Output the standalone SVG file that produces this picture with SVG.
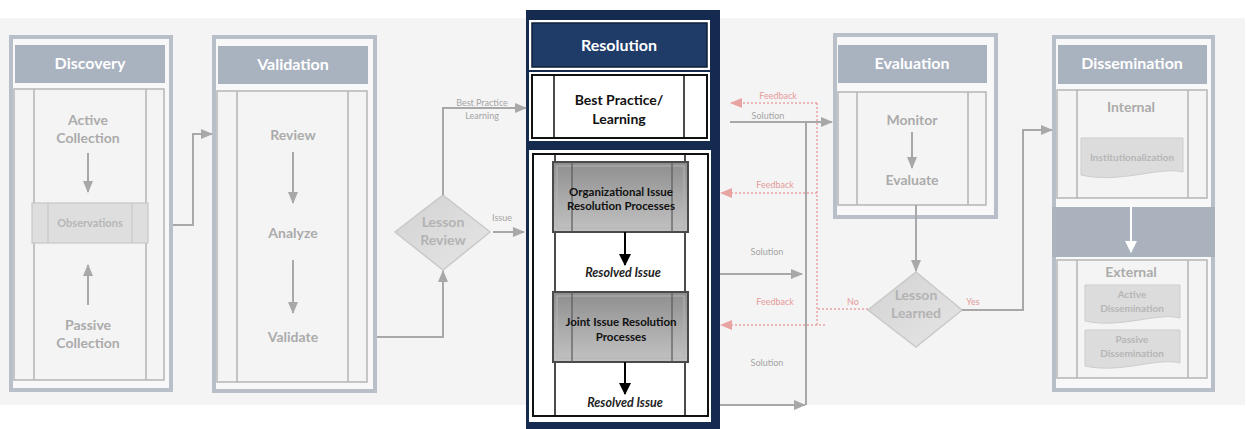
<svg xmlns="http://www.w3.org/2000/svg" width="1247" height="429" viewBox="0 0 1247 429">
  <defs>
    <marker id="arrGray" markerUnits="userSpaceOnUse" markerWidth="12" markerHeight="10" refX="11" refY="5" orient="auto">
      <path d="M0,0 L12,5 L0,10 Z" fill="#a8a8a8"/>
    </marker>
    <marker id="arrPink" markerUnits="userSpaceOnUse" markerWidth="12" markerHeight="10" refX="11" refY="5" orient="auto">
      <path d="M0,0 L12,5 L0,10 Z" fill="#e8a3a3"/>
    </marker>
    <marker id="arrBlack" markerUnits="userSpaceOnUse" markerWidth="12" markerHeight="12" refX="11" refY="6" orient="auto">
      <path d="M0,0 L12,6 L0,12 Z" fill="#000"/>
    </marker>
    <marker id="arrWhite" markerUnits="userSpaceOnUse" markerWidth="12" markerHeight="12" refX="11" refY="6" orient="auto">
      <path d="M0,0 L12,6 L0,12 Z" fill="#fff"/>
    </marker>
    <linearGradient id="procFill" x1="0" y1="0" x2="0" y2="1">
      <stop offset="0" stop-color="#8e8e8e"/>
      <stop offset="0.5" stop-color="#a9a9a9"/>
      <stop offset="1" stop-color="#c2c2c2"/>
    </linearGradient>
    <linearGradient id="diaFill" x1="0" y1="0" x2="1" y2="1">
      <stop offset="0" stop-color="#d2d2d2"/>
      <stop offset="1" stop-color="#e6e6e6"/>
    </linearGradient>
    <style>
      .frame { fill: #b8bfc9; }
      .pane { fill: #f8f8f8; }
      .head { fill: #a9b2bf; }
      .headTxt { font-family: Lato, "Liberation Sans", sans-serif; font-weight: bold; font-size: 16px; fill: #ffffff; text-anchor: middle; }
      .box { fill: #f4f4f4; stroke: #b5b5b5; stroke-width: 1.5; }
      .rule { stroke: #b5b5b5; stroke-width: 1.5; }
      .step { font-family: Lato, "Liberation Sans", sans-serif; font-weight: bold; font-size: 14px; fill: #ababab; text-anchor: middle; }
      .small { font-family: Lato, "Liberation Sans", sans-serif; font-weight: bold; font-size: 10px; fill: #b6b6b6; text-anchor: middle; }
      .doc { fill: #dcdcdc; stroke: #cdcdcd; stroke-width: 1; }
      .dia { fill: url(#diaFill); stroke: #c9c9c9; stroke-width: 1.5; }
      .diaTxt { font-family: Lato, "Liberation Sans", sans-serif; font-weight: bold; font-size: 14px; fill: #b3b3b3; text-anchor: middle; }
      .conn { fill: none; stroke: #a8a8a8; stroke-width: 2; }
      .fb { fill: none; stroke: #e8a3a3; stroke-width: 1.5; stroke-dasharray: 2 2; }
      .lblGray { font-family: Lato, "Liberation Sans", sans-serif; font-size: 9px; fill: #a4a4a4; text-anchor: middle; }
      .lblPink { font-family: Lato, "Liberation Sans", sans-serif; font-size: 9px; fill: #e59a9a; text-anchor: middle; }
      .proc { fill: url(#procFill); stroke: #4a4a4a; stroke-width: 2; }
      .procIn { fill: none; stroke: #b4b4b4; stroke-width: 1; }
      .procRule { stroke: #5a5a5a; stroke-width: 1.2; }
      .procTxt { font-family: Lato, "Liberation Sans", sans-serif; font-weight: bold; font-size: 11.5px; fill: #111; text-anchor: middle; }
      .resolved { font-family: Lato, "Liberation Sans", sans-serif; font-weight: bold; font-style: italic; font-size: 12.5px; fill: #222; text-anchor: middle; }
      .bpTxt { font-family: Lato, "Liberation Sans", sans-serif; font-weight: bold; font-size: 14px; fill: #111; text-anchor: middle; }
      .blk { fill: #fff; stroke: #111; stroke-width: 2; }
      .blkRule { stroke: #111; stroke-width: 1.5; }
    </style>
  </defs>

  <!-- page background band -->
  <rect x="0" y="0" width="1247" height="429" fill="#ffffff"/>
  <rect x="0" y="18" width="1245" height="387" fill="#f4f4f4"/>

  <!-- Discovery -->
  <g id="discovery">
    <rect class="frame" x="9" y="35" width="164" height="357"/>
    <rect class="pane" x="13" y="39" width="156" height="349"/>
    <rect class="head" x="15" y="45" width="150" height="38"/>
    <text class="headTxt" x="90" y="69">Discovery</text>
    <rect class="box" x="14" y="89" width="150" height="291"/>
    <line class="rule" x1="34" y1="89" x2="34" y2="380"/>
    <line class="rule" x1="146" y1="89" x2="146" y2="380"/>
    <text class="step" x="88" y="125">Active</text>
    <text class="step" x="88" y="143">Collection</text>
    <rect x="32" y="203" width="116" height="40" fill="#dedede" stroke="#c6c6c6" stroke-width="1.2"/>
    <line x1="48" y1="203" x2="48" y2="243" stroke="#c6c6c6" stroke-width="1.2"/>
    <line x1="132" y1="203" x2="132" y2="243" stroke="#c6c6c6" stroke-width="1.2"/>
    <text class="small" x="90" y="227" style="font-size:11px">Observations</text>
    <text class="step" x="88" y="330">Passive</text>
    <text class="step" x="88" y="348">Collection</text>
  </g>

  <!-- Validation -->
  <g id="validation">
    <rect class="frame" x="212" y="35" width="165" height="358"/>
    <rect class="pane" x="216" y="39" width="157" height="350"/>
    <rect class="head" x="218" y="46" width="150" height="38"/>
    <text class="headTxt" x="293" y="70">Validation</text>
    <rect class="box" x="217" y="91" width="150" height="291"/>
    <line class="rule" x1="237" y1="91" x2="237" y2="382"/>
    <line class="rule" x1="348" y1="91" x2="348" y2="382"/>
    <text class="step" x="293" y="140">Review</text>
    <text class="step" x="293" y="238">Analyze</text>
    <text class="step" x="293" y="342">Validate</text>
  </g>

  <!-- Lesson Review decision -->
  <g id="lesson-review">
    <polygon class="dia" points="443,195 490,232 443,270 395,232"/>
    <text class="diaTxt" x="443" y="227">Lesson</text>
    <text class="diaTxt" x="443" y="245">Review</text>
  </g>

  <!-- Resolution -->
  <g id="resolution">
    <rect x="526" y="10" width="194" height="419" fill="#142b4f"/>
    <rect x="529" y="20" width="181" height="50" fill="#ffffff"/>
    <rect x="532" y="23" width="175" height="44" fill="#1f3c69" stroke="#0e1f3a" stroke-width="1.5"/>
    <text class="headTxt" x="619" y="51">Resolution</text>
    <rect x="529" y="72" width="181" height="69" fill="#ffffff"/>
    <rect class="blk" x="532" y="75" width="175" height="63"/>
    <line class="blkRule" x1="554" y1="75" x2="554" y2="138"/>
    <line class="blkRule" x1="684" y1="75" x2="684" y2="138"/>
    <text class="bpTxt" x="619" y="105">Best Practice/</text>
    <text class="bpTxt" x="619" y="124">Learning</text>
    <rect x="529" y="150" width="182" height="272" fill="#ffffff"/>
    <rect class="blk" x="533" y="154" width="175" height="262"/>
    <line class="blkRule" x1="555" y1="154" x2="555" y2="416"/>
    <line class="blkRule" x1="685" y1="154" x2="685" y2="416"/>
  </g>

  <g id="org-issue">
    <rect class="proc" x="553" y="162" width="135" height="70"/>
    <rect class="procIn" x="557" y="166" width="127" height="62"/>
    <line class="procRule" x1="572" y1="162" x2="572" y2="232"/>
    <line class="procRule" x1="672" y1="162" x2="672" y2="232"/>
    <text class="procTxt" x="621" y="196">Organizational Issue</text>
    <text class="procTxt" x="621" y="210">Resolution Processes</text>
  </g>

  <g id="resolved-1">
    <text class="resolved" x="623" y="277">Resolved Issue</text>
  </g>

  <g id="joint-issue">
    <rect class="proc" x="553" y="292" width="135" height="70"/>
    <rect class="procIn" x="557" y="296" width="127" height="62"/>
    <line class="procRule" x1="572" y1="292" x2="572" y2="362"/>
    <line class="procRule" x1="672" y1="292" x2="672" y2="362"/>
    <text class="procTxt" x="621" y="326">Joint Issue Resolution</text>
    <text class="procTxt" x="621" y="341">Processes</text>
  </g>

  <g id="resolved-2">
    <text class="resolved" x="625" y="407">Resolved Issue</text>
  </g>

  <!-- Evaluation -->
  <g id="evaluation">
    <rect class="frame" x="833" y="33" width="165" height="186"/>
    <rect class="pane" x="837" y="37" width="157" height="178"/>
    <rect class="head" x="838" y="45" width="149" height="38"/>
    <text class="headTxt" x="912" y="69">Evaluation</text>
    <rect class="box" x="838" y="92" width="148" height="113"/>
    <line class="rule" x1="857" y1="92" x2="857" y2="205"/>
    <line class="rule" x1="968" y1="92" x2="968" y2="205"/>
    <text class="step" x="912" y="125">Monitor</text>
    <text class="step" x="912" y="185">Evaluate</text>
  </g>

  <!-- Lesson Learned decision -->
  <g id="lesson-learned">
    <polygon class="dia" points="916,272 962,310 916,347 868,310"/>
    <text class="diaTxt" x="916" y="300">Lesson</text>
    <text class="diaTxt" x="916" y="318">Learned</text>
  </g>

  <!-- Dissemination -->
  <g id="dissemination">
    <rect class="frame" x="1052" y="35" width="163" height="357"/>
    <rect x="1052" y="207" width="163" height="50" fill="#aab2bd"/>
    <rect class="pane" x="1056" y="39" width="155" height="168"/>
    <rect class="pane" x="1056" y="257" width="155" height="131"/>
    <rect class="head" x="1058" y="45" width="149" height="39"/>
    <text class="headTxt" x="1132" y="69">Dissemination</text>
    <rect class="box" x="1057" y="90" width="150" height="108"/>
    <line class="rule" x1="1077" y1="90" x2="1077" y2="198"/>
    <line class="rule" x1="1188" y1="90" x2="1188" y2="198"/>
    <text class="step" x="1131" y="112">Internal</text>
    <path class="doc" d="M1081,138 H1183 V172 C1160,166 1120,184 1081,175 Z"/>
    <text class="small" x="1132" y="161">Institutionalization</text>
    <rect class="box" x="1057" y="260" width="150" height="118"/>
    <line class="rule" x1="1077" y1="260" x2="1077" y2="378"/>
    <line class="rule" x1="1188" y1="260" x2="1188" y2="378"/>
    <text class="step" x="1131" y="277">External</text>
    <path class="doc" d="M1085,285 H1180 V318 C1158,312 1120,329 1085,321 Z"/>
    <text class="small" x="1132" y="298">Active</text>
    <text class="small" x="1132" y="312">Dissemination</text>
    <path class="doc" d="M1085,330 H1180 V363 C1158,357 1120,374 1085,366 Z"/>
    <text class="small" x="1132" y="343">Passive</text>
    <text class="small" x="1132" y="357">Dissemination</text>
  </g>

  <!-- connectors -->
  <g id="connectors">
    <!-- arrows inside the stage panels -->
    <path class="conn" d="M88,153 V192" marker-end="url(#arrGray)"/>
    <path class="conn" d="M88,305 V265" marker-end="url(#arrGray)"/>
    <path class="conn" d="M293,152 V203" marker-end="url(#arrGray)"/>
    <path class="conn" d="M293,260 V313" marker-end="url(#arrGray)"/>
    <path class="conn" d="M912,132 V168" marker-end="url(#arrGray)"/>
    <path d="M1131,207 V252" fill="none" stroke="#ffffff" stroke-width="2" marker-end="url(#arrWhite)"/>
    <path d="M625,232 V265" fill="none" stroke="#000" stroke-width="2" marker-end="url(#arrBlack)"/>
    <path d="M625,362 V394" fill="none" stroke="#000" stroke-width="2" marker-end="url(#arrBlack)"/>

    <!-- stage to stage -->
    <path class="conn" d="M173,225 H193 V134 H212" marker-end="url(#arrGray)"/>
    <path class="conn" d="M377,337 H443 V271" marker-end="url(#arrGray)"/>
    <path class="conn" d="M443,195 V108 H526" marker-end="url(#arrGray)"/>
    <text class="lblGray" x="482" y="106">Best Practice</text>
    <text class="lblGray" x="482" y="119">Learning</text>
    <path class="conn" d="M493,232 H524" marker-end="url(#arrGray)"/>
    <text class="lblGray" x="502" y="221">Issue</text>

    <!-- solutions to evaluation -->
    <path class="conn" d="M730,122 H832" marker-end="url(#arrGray)"/>
    <path class="conn" d="M806,122 V405"/>
    <path class="conn" d="M720,274 H802" marker-end="url(#arrGray)"/>
    <path class="conn" d="M720,405 H805" marker-end="url(#arrGray)"/>
    <text class="lblGray" x="768" y="119">Solution</text>
    <text class="lblGray" x="767" y="255">Solution</text>
    <text class="lblGray" x="767" y="366">Solution</text>

    <path class="conn" d="M916,205 V271" marker-end="url(#arrGray)"/>
    <path class="conn" d="M962,310 H1023 V130 H1052" marker-end="url(#arrGray)"/>
    <text class="lblPink" x="973" y="305">Yes</text>

    <!-- feedback loops -->
    <path class="fb" d="M868,309 H817"/>
    <path class="fb" d="M817,103 V325"/>
    <path class="fb" d="M817,103 H731" marker-end="url(#arrPink)"/>
    <path class="fb" d="M817,193 H721" marker-end="url(#arrPink)"/>
    <path class="fb" d="M825,325 H721" marker-end="url(#arrPink)"/>
    <text class="lblPink" x="778" y="99">Feedback</text>
    <text class="lblPink" x="775" y="188">Feedback</text>
    <text class="lblPink" x="775" y="305">Feedback</text>
    <text class="lblPink" x="853" y="305">No</text>
  </g>
</svg>
